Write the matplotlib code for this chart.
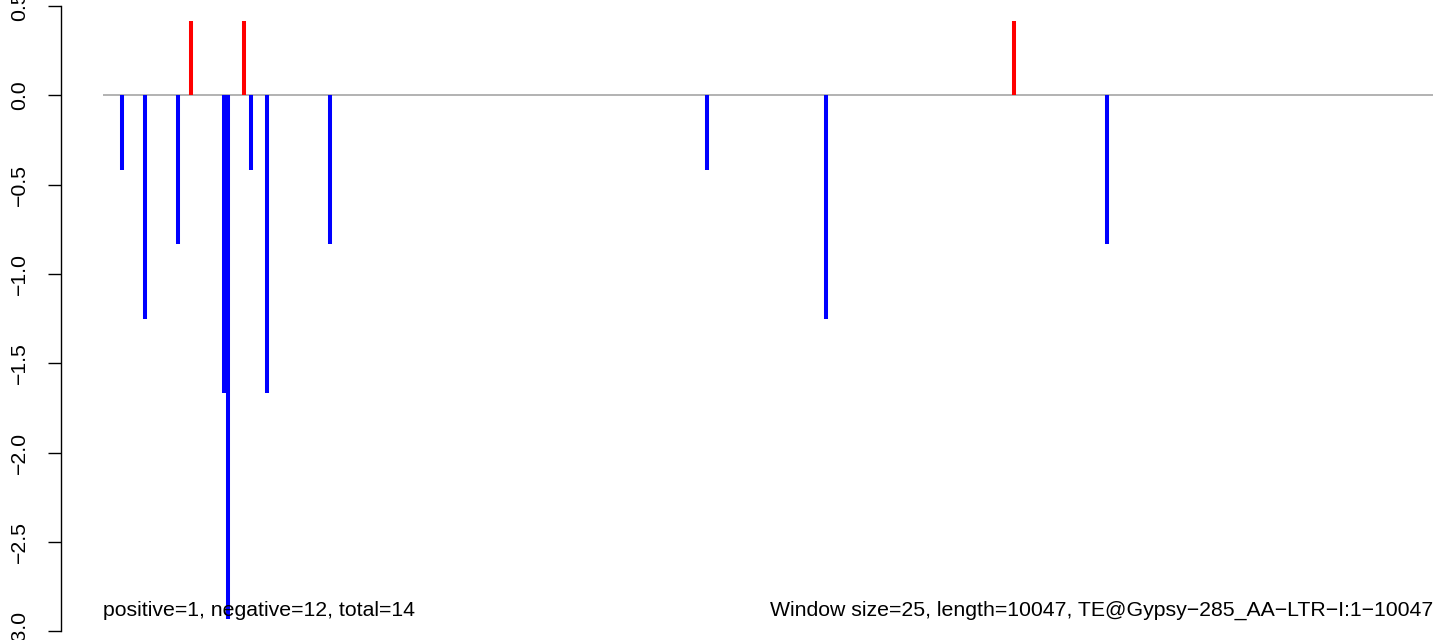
import numpy as np
import matplotlib.pyplot as plt

plt.rcParams['font.family'] = ['Liberation Sans', 'DejaVu Sans']

# posiciones (pb) y valores de cada ventana
posiciones = [144, 317, 566, 662, 914, 944, 1065, 1118, 1239, 1715, 4563, 5459, 6880, 7584]
valores = [-0.417, -1.25, -0.833, 0.417, -1.667, -2.93, 0.417, -0.417, -1.667, -0.833,
           -0.417, -1.25, 0.417, -0.833]
longitud = 10047
texto_izq = "positive=1, negative=12, total=14"
texto_der = "Window size=25, length=10047, TE@Gypsy\u2212285_AA\u2212LTR\u2212I:1\u221210047"
yticks = [0.5, 0.0, -0.5, -1.0, -1.5, -2.0, -2.5, -3.0]

fig = plt.figure(figsize=(14.33, 6.4), dpi=100)
ax = fig.add_axes([103 / 1433, 0, 1 - 103 / 1433, 1])

x = np.array(posiciones)
y = np.array(valores)
colores = np.where(y > 0, 'red', 'blue')

ax.axhline(0, color='#a6a6a6', lw=1.2, zorder=1)
ax.vlines(x, 0, y, colors=colores, lw=2.9, capstyle='butt', zorder=2)

ax.set_xlim(0, longitud)
ax.set_ylim(-3.05, 0.534)

for s in ['top', 'right', 'bottom']:
    ax.spines[s].set_visible(False)
ax.spines['left'].set_position(('outward', 30))
ax.spines['left'].set_bounds(-3.0, 0.5)
ax.spines['left'].set_linewidth(1.0)
ax.set_xticks([])
ax.set_yticks(yticks)
etiquetas = [f"{v:.1f}".replace("-", "\u2212") for v in yticks]
ax.set_yticklabels(etiquetas, rotation=90, va='center', fontsize=15.3)
ax.tick_params(axis='y', length=9.5, width=1.0, pad=14)

ax.text(0, -2.915, texto_izq, fontsize=15.3, ha='left', va='baseline')
ax.text(longitud, -2.915, texto_der, fontsize=15.3, ha='right', va='baseline')

plt.savefig("out.png", dpi=100)
